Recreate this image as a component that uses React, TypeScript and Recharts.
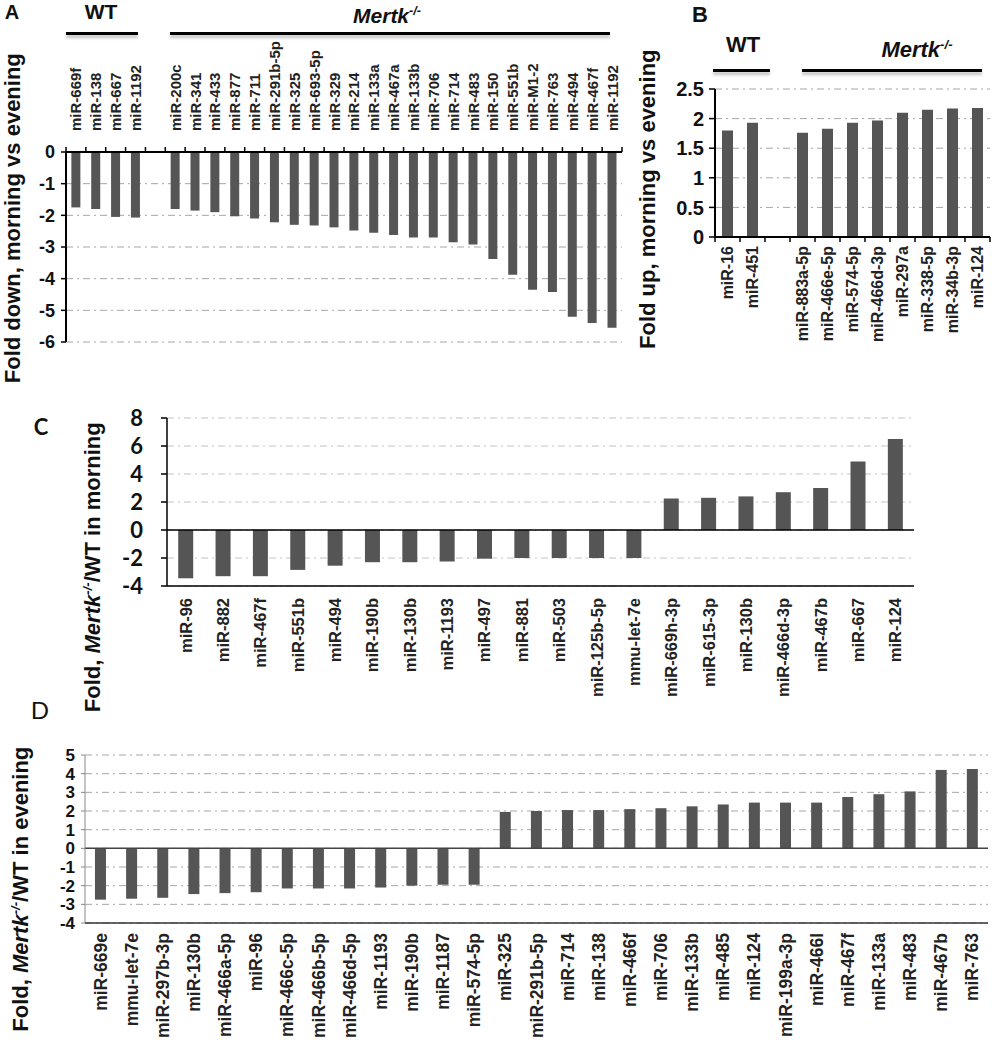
import React from 'react';
import { BarChart, Bar, XAxis, YAxis, CartesianGrid, ReferenceLine } from 'recharts';

// Panel A: fold down, morning vs evening ('' = gap between WT and Mertk-/-)
const labelsA = ['miR-669f', 'miR-138', 'miR-667', 'miR-1192', '',
  'miR-200c', 'miR-341', 'miR-433', 'miR-877', 'miR-711', 'miR-291b-5p', 'miR-325', 'miR-693-5p',
  'miR-329', 'miR-214', 'miR-133a', 'miR-467a', 'miR-133b', 'miR-706', 'miR-714', 'miR-483',
  'miR-150', 'miR-551b', 'miR-M1-2', 'miR-763', 'miR-494', 'miR-467f', 'miR-1192'];
const valuesA = [-1.75, -1.8, -2.05, -2.07, null,
  -1.8, -1.85, -1.9, -2.03, -2.1, -2.22, -2.3, -2.32,
  -2.38, -2.48, -2.55, -2.62, -2.7, -2.7, -2.85, -2.92,
  -3.38, -3.88, -4.35, -4.42, -5.2, -5.4, -5.55];
const ticksA = [0, -1, -2, -3, -4, -5, -6];

// Panel B: fold up, morning vs evening
const labelsB = ['miR-16', 'miR-451', '', 'miR-883a-5p', 'miR-466e-5p', 'miR-574-5p', 'miR-466d-3p',
  'miR-297a', 'miR-338-5p', 'miR-34b-3p', 'miR-124'];
const valuesB = [1.8, 1.93, null, 1.76, 1.83, 1.93, 1.97, 2.1, 2.15, 2.17, 2.18];
const ticksB = [0, 0.5, 1, 1.5, 2, 2.5];

// Panel C: Mertk-/-/WT in morning
const labelsC = ['miR-96', 'miR-882', 'miR-467f', 'miR-551b', 'miR-494', 'miR-190b', 'miR-130b',
  'miR-1193', 'miR-497', 'miR-881', 'miR-503', 'miR-125b-5p', 'mmu-let-7e', 'miR-669h-3p',
  'miR-615-3p', 'miR-130b', 'miR-466d-3p', 'miR-467b', 'miR-667', 'miR-124'];
const valuesC = [-3.45, -3.3, -3.3, -2.85, -2.55, -2.3, -2.3, -2.25, -2.05, -2.0, -2.0, -2.0, -2.0,
  2.25, 2.3, 2.4, 2.7, 3.0, 4.9, 6.5];
const ticksC = [-4, -2, 0, 2, 4, 6, 8];

// Panel D: Mertk-/-/WT in evening
const labelsD = ['miR-669e', 'mmu-let-7e', 'miR-297b-3p', 'miR-130b', 'miR-466a-5p', 'miR-96',
  'miR-466c-5p', 'miR-466b-5p', 'miR-466d-5p', 'miR-1193', 'miR-190b', 'miR-1187', 'miR-574-5p',
  'miR-325', 'miR-291b-5p', 'miR-714', 'miR-138', 'miR-466f', 'miR-706', 'miR-133b', 'miR-485',
  'miR-124', 'miR-199a-3p', 'miR-466l', 'miR-467f', 'miR-133a', 'miR-483', 'miR-467b', 'miR-763'];
const valuesD = [-2.75, -2.7, -2.65, -2.45, -2.4, -2.35, -2.15, -2.15, -2.15, -2.1, -2.0, -1.95, -1.95,
  1.95, 2.0, 2.05, 2.05, 2.1, 2.15, 2.25, 2.35, 2.45, 2.45, 2.45, 2.75, 2.9, 3.05, 4.2, 4.25];
const ticksD = [-4, -3, -2, -1, 0, 1, 2, 3, 4, 5];

const BAR = '#555555';
const GRID = '#a6a6a6';
const ARIAL = 'Liberation Sans, Arial, sans-serif';

const toRows = (labels: string[], values: (number | null)[]) =>
  labels.map((name, i) => ({ i, name, v: values[i] }));

// rotated category label + small tick mark between categories
const makeTick = (labels: string[], opts: { top?: boolean; size: number; gap: number; marks?: boolean }) =>
  (props: any) => {
    const { x, y, payload } = props;
    const label = labels[payload.value];
    const half = payload.offset ?? 0;
    const dir = opts.top ? -1 : 1;
    return (
      <g>
        {opts.marks && <line x1={x - half} x2={x - half} y1={y} y2={y + dir * 5} stroke="#000" strokeWidth={1.5} />}
        {opts.marks && payload.index === labels.length - 1 &&
          <line x1={x + half} x2={x + half} y1={y} y2={y + dir * 5} stroke="#000" strokeWidth={1.5} />}
        {label && (
          <text transform={`translate(${x},${y + dir * opts.gap}) rotate(-90)`} textAnchor={opts.top ? 'start' : 'end'}
            dominantBaseline="central" fontFamily={ARIAL} fontWeight="bold" fontSize={opts.size} fill="#222">
            {label}
          </text>
        )}
      </g>
    );
  };

const Mertk = () => (<><i>Mertk</i><sup style={{ fontSize: '0.6em', fontStyle: 'italic' }}>-/-</sup></>);

const VTitle = ({ cx, cy, len, size, children }: any) => (
  <div style={{
    position: 'absolute', left: cx - len / 2, top: cy - size * 0.6, width: len, height: size * 1.2,
    lineHeight: `${size * 1.2}px`, textAlign: 'center', transform: 'rotate(-90deg)', whiteSpace: 'nowrap',
    fontFamily: ARIAL, fontWeight: 'bold', fontSize: size, color: '#111',
  }}>{children}</div>
);

const Txt = ({ x, y, size, children, font = ARIAL, weight = 'bold' }: any) => (
  <div style={{
    position: 'absolute', left: x - 150, top: y - size * 0.6, width: 300, textAlign: 'center',
    lineHeight: `${size * 1.2}px`, fontFamily: font, fontWeight: weight, fontSize: size, color: '#111', whiteSpace: 'nowrap',
  }}>{children}</div>
);

const HLine = ({ x1, x2, y }: any) => (
  <div style={{ position: 'absolute', left: x1, top: y - 1.5, width: x2 - x1, height: 3, background: '#000', boxShadow: '0 3px 3px rgba(0,0,0,0.25)' }} />
);

const tickFont = (size: number, family = ARIAL) => ({ fontFamily: family, fontWeight: 'bold' as const, fontSize: size, fill: '#111' });

export default function App() {
  const dataA = toRows(labelsA, valuesA);
  const dataB = toRows(labelsB, valuesB);
  const dataC = toRows(labelsC, valuesC);
  const dataD = toRows(labelsD, valuesD);

  return (
    <div style={{ position: 'absolute', left: 0, top: 0, width: 992, height: 1050, background: '#fff', overflow: 'hidden' }}>
      {/* Panel A */}
      <Txt x={12} y={12} size={20}>A</Txt>
      <Txt x={101} y={12} size={21}>WT</Txt>
      <Txt x={387} y={12} size={21}><Mertk /></Txt>
      <HLine x1={66} x2={138} y={33} />
      <HLine x1={170} x2={610} y={33} />
      <VTitle cx={13} cy={218} len={380} size={22}>Fold down, morning vs evening</VTitle>
      <div style={{ position: 'absolute', left: 0, top: 0 }}>
        <BarChart width={640} height={362} data={dataA} margin={{ top: 10, right: 18, bottom: 20, left: 0 }} barCategoryGap="27%">
          <CartesianGrid vertical={false} stroke={GRID} strokeDasharray="7 4 2 4" />
          <XAxis dataKey="i" orientation="top" height={142} tickLine={false} tickSize={0} tickMargin={0} interval={0}
            axisLine={{ stroke: '#000', strokeWidth: 2 }} tick={makeTick(labelsA, { top: true, size: 15, gap: 21, marks: true })} />
          <XAxis xAxisId="frame" dataKey="i" orientation="bottom" height={0} tick={false} tickLine={false} axisLine={{ stroke: '#888' }} />
          <YAxis domain={[-6, 0]} ticks={ticksA} width={66} tickSize={5} tickMargin={6} interval={0}
            axisLine={{ stroke: '#000', strokeWidth: 2 }} tickLine={{ stroke: '#000', strokeWidth: 1.5 }} tick={tickFont(18)} />
          <YAxis yAxisId="frame" orientation="right" domain={[-6, 0]} width={0} tick={false} tickLine={false} axisLine={{ stroke: '#888' }} />
          <Bar dataKey="v" fill={BAR} isAnimationActive={false} />
        </BarChart>
      </div>

      {/* Panel B */}
      <Txt x={700} y={15} size={22}>B</Txt>
      <Txt x={743} y={45} size={22}>WT</Txt>
      <Txt x={917} y={45} size={22}><Mertk /></Txt>
      <HLine x1={713} x2={770} y={70} />
      <HLine x1={802} x2={982} y={70} />
      <VTitle cx={648} cy={199} len={340} size={22}>Fold up, morning vs evening</VTitle>
      <div style={{ position: 'absolute', left: 660, top: 60 }}>
        <BarChart width={332} height={300} data={dataB} margin={{ top: 29, right: 2, bottom: 20, left: 0 }} barCategoryGap="28%">
          <CartesianGrid vertical={false} stroke={GRID} strokeDasharray="7 4 2 4" />
          <XAxis dataKey="i" height={103} tickLine={false} tickSize={0} tickMargin={0} interval={0}
            axisLine={{ stroke: '#000', strokeWidth: 2 }} tick={makeTick(labelsB, { size: 16, gap: 9, marks: true })} />
          <YAxis domain={[0, 2.5]} ticks={ticksB} width={55} tickSize={6} tickMargin={5} interval={0}
            axisLine={{ stroke: '#000', strokeWidth: 2 }} tickLine={{ stroke: '#000', strokeWidth: 1.5 }} tick={tickFont(20)} />
          <Bar dataKey="v" fill={BAR} isAnimationActive={false} />
        </BarChart>
      </div>

      {/* Panel C */}
      <Txt x={41} y={427} size={22} font="Lato, sans-serif">C</Txt>
      <VTitle cx={88} cy={567} len={320} size={22}>Fold, <Mertk />/WT in morning</VTitle>
      <div style={{ position: 'absolute', left: 100, top: 400 }}>
        <BarChart width={830} height={330} data={dataC} margin={{ top: 18, right: 16, bottom: 0, left: 0 }} barCategoryGap="30%">
          <CartesianGrid vertical={false} stroke="#c4c4c4" strokeDasharray="7 4 2 4" />
          <XAxis dataKey="i" height={144} tickLine={false} tickSize={0} tickMargin={0} interval={0}
            axisLine={{ stroke: '#000', strokeWidth: 1.5 }} tick={makeTick(labelsC, { size: 16.5, gap: 12 })} />
          <XAxis xAxisId="frame" dataKey="i" orientation="top" height={0} tick={false} tickLine={false} axisLine={{ stroke: '#000', strokeWidth: 1.5 }} />
          <YAxis domain={[-4, 8]} ticks={ticksC} width={67} tickSize={6} tickMargin={18} interval={0}
            axisLine={{ stroke: '#000', strokeWidth: 1.5 }} tickLine={{ stroke: '#000', strokeWidth: 1.5 }} tick={tickFont(22, 'Lato, sans-serif')} />
          <YAxis yAxisId="frame" orientation="right" domain={[-4, 8]} width={0} tick={false} tickLine={false} axisLine={{ stroke: '#000', strokeWidth: 1.5 }} />
          <ReferenceLine y={0} stroke="#000" strokeWidth={1.5} />
          <Bar dataKey="v" fill={BAR} isAnimationActive={false} />
        </BarChart>
      </div>

      {/* Panel D */}
      <Txt x={40} y={710} size={24} font="Lato, sans-serif" weight="normal">D</Txt>
      <VTitle cx={16} cy={889} len={320} size={22}>Fold, <Mertk />/WT in evening</VTitle>
      <div style={{ position: 'absolute', left: 20, top: 740 }}>
        <BarChart width={972} height={310} data={dataD} margin={{ top: 15, right: 4, bottom: 0, left: 0 }} barCategoryGap="32%">
          <CartesianGrid vertical={false} stroke={GRID} strokeDasharray="7 4 2 4" />
          <XAxis dataKey="i" height={127} tickLine={false} tickSize={0} tickMargin={0} interval={0}
            axisLine={{ stroke: '#333', strokeWidth: 1.5 }} tick={makeTick(labelsD, { size: 17.5, gap: 10 })} />
          <XAxis xAxisId="frame" dataKey="i" orientation="top" height={0} tick={false} tickLine={false} axisLine={{ stroke: '#222', strokeWidth: 1.5 }} />
          <YAxis domain={[-4, 5]} ticks={ticksD} width={65} tickSize={4} tickMargin={6} interval={0}
            axisLine={{ stroke: '#888' }} tickLine={{ stroke: '#888' }} tick={tickFont(17)} />
          <YAxis yAxisId="frame" orientation="right" domain={[-4, 5]} width={0} tick={false} tickLine={false} axisLine={{ stroke: '#222', strokeWidth: 1.5 }} />
          <ReferenceLine y={0} stroke="#444" strokeWidth={1.5} />
          <Bar dataKey="v" fill={BAR} isAnimationActive={false} />
        </BarChart>
      </div>
    </div>
  );
}
